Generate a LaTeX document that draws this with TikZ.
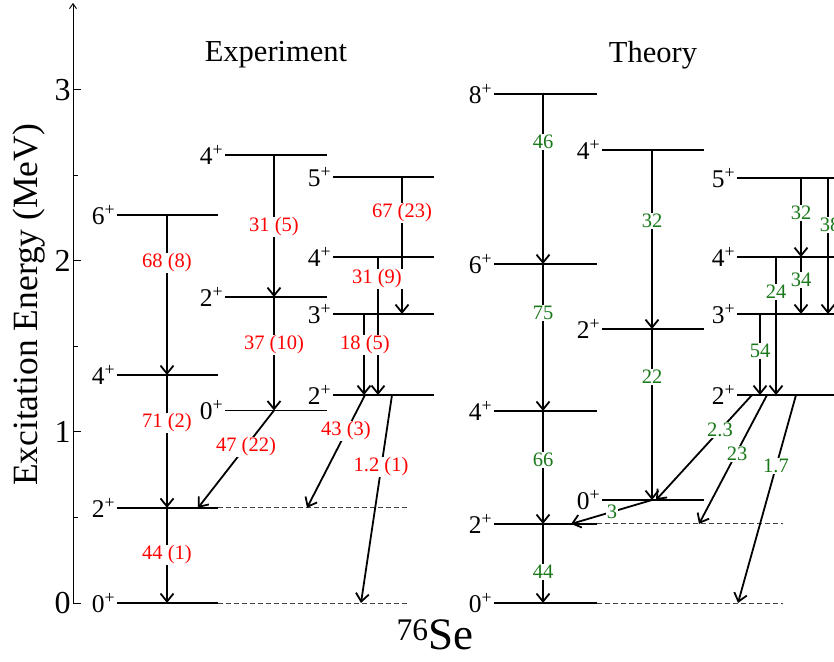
\documentclass[tikz,border=0pt]{standalone}
\usepackage{fontspec}
\setmainfont{Liberation Serif}
\usepackage{tikz}
\usetikzlibrary{arrows.meta}
\definecolor{expred}{RGB}{255,0,0}
\definecolor{thgreen}{RGB}{25,120,25}
\tikzset{
  lvlline/.style  = {line width=1.8pt},
  extline/.style  = {line width=0.9pt,black!75,dash pattern=on 5pt off 3pt},
  trans/.style    = {line width=1.8pt,-{Straight Barb[length=8pt,width=13pt]}},
  axisline/.style = {line width=0.9pt},
  spinlab/.style  = {anchor=east,inner sep=1.5pt,font=\fontsize{25.5}{28}\selectfont},
  explab/.style   = {fill=white,inner sep=1pt,text=expred,font=\fontsize{20.5}{22}\selectfont},
  thlab/.style    = {fill=white,inner sep=1pt,text=thgreen,font=\fontsize{20.5}{22}\selectfont},
  bigtext/.style  = {font=\fontsize{32}{34}\selectfont}
}
\newcommand{\lvl}[5]{%
  \draw[lvlline] (#2,#4) coordinate (#1) -- (#3,#4) coordinate (#1r);
  \node[spinlab] (#1s) at (#1) {#5\textsuperscript{+}};
}

\begin{document}
\begin{tikzpicture}[x=1pt,y=171pt]
  \useasboundingbox (0,-0.345) rectangle (834,3.526);
  % axis
  \draw[axisline,-{Straight Barb[length=5pt,width=7pt]}] (73,0) -- (73,3.509);
  \foreach \e in {0,1,2,3}
    \draw[axisline] (73,\e) -- (81,\e) node[bigtext,anchor=east,inner sep=0pt] (tk\e) at (71,\e) {\e};
  \foreach \e in {0.5,1.5,2.5}
    \draw[axisline] (73,\e) -- (78,\e);
  \node[font=\fontsize{35.5}{38}\selectfont,rotate=90] (ylab) at (29,1.743) {Excitation Energy (MeV)};
  \node[font=\fontsize{30.5}{32}\selectfont] (hexp) at (276,3.205) {Experiment};
  \node[font=\fontsize{30.5}{32}\selectfont] (hth) at (653,3.205) {Theory};
  \node[font=\fontsize{45}{47}\selectfont] (nucl) at (435,-0.187) {\textsuperscript{76}Se};

  % experiment
  \lvl{ea0}{117}{218}{0}{0}
  \lvl{ea2}{117}{218}{0.556}{2}
  \lvl{ea4}{117}{218}{1.333}{4}
  \lvl{ea6}{117}{218}{2.269}{6}
  \lvl{eb0}{225}{327}{1.126}{0}
  \lvl{eb2}{225}{327}{1.789}{2}
  \lvl{eb4}{225}{327}{2.620}{4}
  \lvl{ec2}{333}{434}{1.216}{2}
  \lvl{ec3}{333}{434}{1.690}{3}
  \lvl{ec4}{333}{434}{2.023}{4}
  \lvl{ec5}{333}{434}{2.491}{5}
  \draw[extline] (ea0r) -- (407,0 |- ea0r);
  \draw[extline] (ea2r) -- (407,0 |- ea2r);
  \draw[trans] (167,0 |- ea6) -- (167,0 |- ea4);
  \draw[trans] (167,0 |- ea4) -- (167,0 |- ea2);
  \draw[trans] (167,0 |- ea2) -- (167,0 |- ea0);
  \draw[trans] (274,0 |- eb4) -- (274,0 |- eb2);
  \draw[trans] (274,0 |- eb2) -- (274,0 |- eb0);
  \draw[trans] (274,0 |- eb0) -- (198,0 |- ea2);
  \draw[trans] (402,0 |- ec5) -- (402,0 |- ec3);
  \draw[trans] (378,0 |- ec4) -- (378,0 |- ec2);
  \draw[trans] (364,0 |- ec3) -- (364,0 |- ec2);
  \draw[trans] (365,0 |- ec2) -- (307,0 |- ea2);
  \draw[trans] (392,0 |- ec2) -- (361,0 |- ea0);
  \node[explab] (x68) at (167,1.988) {68 (8)};
  \node[explab] (x71) at (167,1.053) {71 (2)};
  \node[explab] (x44) at (167,0.281) {44 (1)};
  \node[explab] (x31a) at (274,2.199) {31 (5)};
  \node[explab] (x37) at (274,1.509) {37 (10)};
  \node[explab] (x47) at (246,0.912) {47 (22)};
  \node[explab] (x67) at (402,2.281) {67 (23)};
  \node[explab] (x31b) at (377,1.895) {31 (9)};
  \node[explab] (x18) at (365,1.509) {18 (5)};
  \node[explab] (x43) at (346,1.006) {43 (3)};
  \node[explab] (x12) at (381,0.795) {1.2 (1)};

  % theory
  \lvl{ta0}{494}{597}{0}{0}
  \lvl{ta2}{494}{597}{0.462}{2}
  \lvl{ta4}{494}{597}{1.123}{4}
  \lvl{ta6}{494}{597}{1.982}{6}
  \lvl{ta8}{494}{597}{2.977}{8}
  \lvl{tb0}{602}{704}{0.602}{0}
  \lvl{tb2}{602}{704}{1.602}{2}
  \lvl{tb4}{602}{704}{2.649}{4}
  \lvl{tc2}{737}{860}{1.216}{2}
  \lvl{tc3}{737}{860}{1.690}{3}
  \lvl{tc4}{737}{860}{2.023}{4}
  \lvl{tc5}{737}{860}{2.485}{5}
  \draw[extline] (ta0r) -- (783,0 |- ta0r);
  \draw[extline] (ta2r) -- (783,0 |- ta2r);
  \draw[trans] (543,0 |- ta8) -- (543,0 |- ta6);
  \draw[trans] (543,0 |- ta6) -- (543,0 |- ta4);
  \draw[trans] (543,0 |- ta4) -- (543,0 |- ta2);
  \draw[trans] (543,0 |- ta2) -- (543,0 |- ta0);
  \draw[trans] (652,0 |- tb4) -- (652,0 |- tb2);
  \draw[trans] (652,0 |- tb2) -- (652,0 |- tb0);
  \draw[trans] (652,0 |- tb0) -- (571,0 |- ta2);
  \draw[trans] (801,0 |- tc5) -- (801,0 |- tc4);
  \draw[trans] (801,0 |- tc4) -- (801,0 |- tc3);
  \draw[trans] (828,0 |- tc5) -- (828,0 |- tc3);
  \draw[trans] (776,0 |- tc4) -- (776,0 |- tc2);
  \draw[trans] (760,0 |- tc3) -- (760,0 |- tc2);
  \draw[trans] (752,0 |- tc2) -- (656,0 |- tb0);
  \draw[trans] (767,0 |- tc2) -- (699,0 |- ta2);
  \draw[trans] (796,0 |- tc2) -- (738,0 |- ta0);
  \node[thlab] (t46) at (543,2.696) {46};
  \node[thlab] (t75) at (543,1.696) {75};
  \node[thlab] (t66) at (543,0.836) {66};
  \node[thlab] (t44) at (543,0.181) {44};
  \node[thlab] (t32a) at (652,2.234) {32};
  \node[thlab] (t22) at (652,1.322) {22};
  \node[thlab] (t3) at (612,0.532) {3};
  \node[thlab] (t32b) at (801,2.281) {32};
  \node[thlab] (t38) at (830,2.211) {38};
  \node[thlab] (t34) at (801,1.889) {34};
  \node[thlab] (t24) at (776,1.819) {24};
  \node[thlab] (t54) at (760,1.474) {54};
  \node[thlab] (t23a) at (720,1.012) {2.3};
  \node[thlab] (t23b) at (737,0.871) {23};
  \node[thlab] (t17) at (776,0.801) {1.7};
\end{tikzpicture}
\end{document}
